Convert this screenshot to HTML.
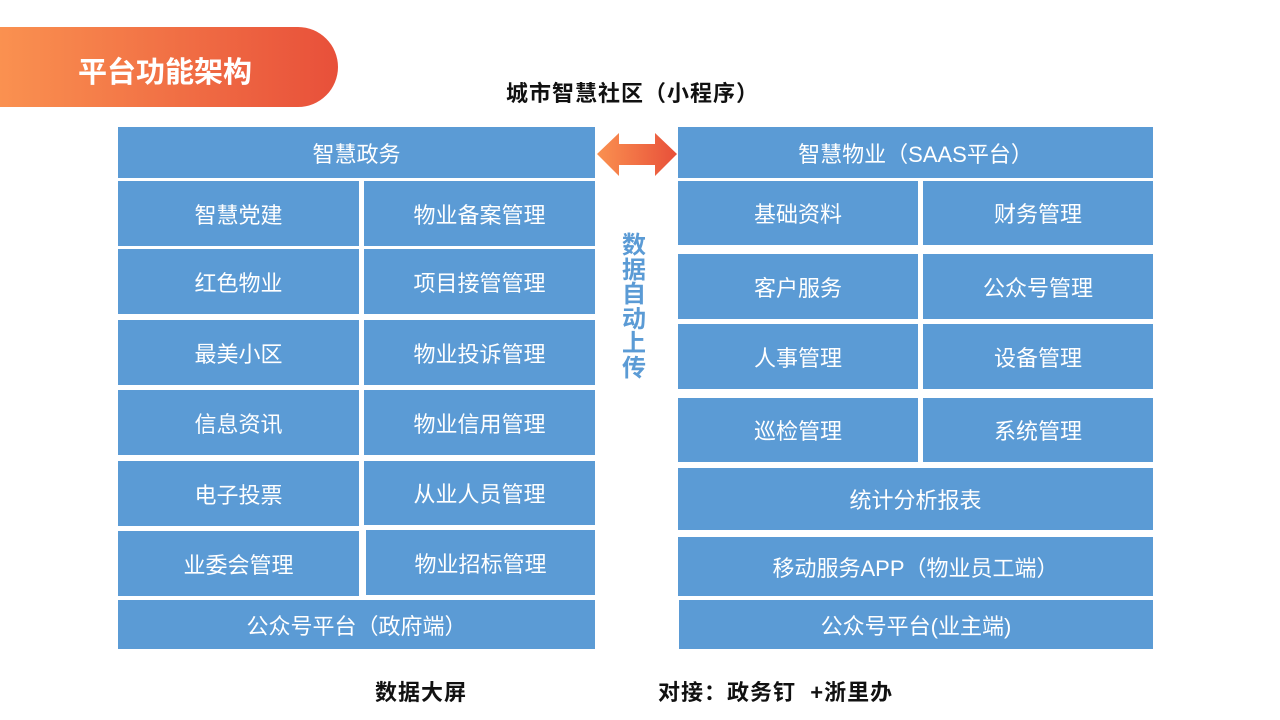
<!DOCTYPE html>
<html><head><meta charset="utf-8"><style>
body{margin:0;width:1280px;height:720px;background:#fff;position:relative;overflow:hidden;font-family:"Liberation Sans","Noto Sans CJK SC",sans-serif}
.b{position:absolute;background:#5B9BD5;color:#fff;font-size:22px;display:flex;align-items:center;justify-content:center;white-space:nowrap}
.t{position:absolute;font-weight:bold;color:#111;white-space:nowrap}
</style></head><body>
<div style="position:absolute;left:0;top:27px;width:338px;height:80px;border-radius:0 40px 40px 0;background:linear-gradient(90deg,#FA9150,#E8503A)"></div>
<div class="t" style="left:78px;top:49px;font-size:29px;color:#fff">平台功能架构</div>
<div class="t" style="left:506px;top:76px;font-size:22px;letter-spacing:1px">城市智慧社区（小程序）</div>

<div class="b" style="left:118px;top:127px;width:477px;height:51px">智慧政务</div>
<div class="b" style="left:118px;top:181px;width:241px;height:65px">智慧党建</div>
<div class="b" style="left:364px;top:181px;width:231px;height:65px">物业备案管理</div>
<div class="b" style="left:118px;top:249px;width:241px;height:65px">红色物业</div>
<div class="b" style="left:364px;top:249px;width:231px;height:65px">项目接管管理</div>
<div class="b" style="left:118px;top:320px;width:241px;height:65px">最美小区</div>
<div class="b" style="left:364px;top:320px;width:231px;height:65px">物业投诉管理</div>
<div class="b" style="left:118px;top:390px;width:241px;height:65px">信息资讯</div>
<div class="b" style="left:364px;top:390px;width:231px;height:65px">物业信用管理</div>
<div class="b" style="left:118px;top:461px;width:241px;height:65px">电子投票</div>
<div class="b" style="left:364px;top:461px;width:231px;height:64px">从业人员管理</div>
<div class="b" style="left:118px;top:531px;width:241px;height:65px">业委会管理</div>
<div class="b" style="left:366px;top:530px;width:229px;height:65px">物业招标管理</div>
<div class="b" style="left:118px;top:600px;width:477px;height:49px">公众号平台（政府端）</div>

<div class="b" style="left:678px;top:127px;width:475px;height:51px">智慧物业（SAAS平台）</div>
<div class="b" style="left:678px;top:181px;width:240px;height:64px">基础资料</div>
<div class="b" style="left:923px;top:181px;width:230px;height:64px">财务管理</div>
<div class="b" style="left:678px;top:254px;width:240px;height:65px">客户服务</div>
<div class="b" style="left:923px;top:254px;width:230px;height:65px">公众号管理</div>
<div class="b" style="left:678px;top:324px;width:240px;height:65px">人事管理</div>
<div class="b" style="left:923px;top:324px;width:230px;height:65px">设备管理</div>
<div class="b" style="left:678px;top:398px;width:240px;height:64px">巡检管理</div>
<div class="b" style="left:923px;top:398px;width:230px;height:64px">系统管理</div>
<div class="b" style="left:678px;top:468px;width:475px;height:62px">统计分析报表</div>
<div class="b" style="left:678px;top:537px;width:475px;height:59px">移动服务APP（物业员工端）</div>
<div class="b" style="left:679px;top:600px;width:474px;height:49px">公众号平台(业主端)</div>

<svg style="position:absolute;left:596px;top:131px" width="82" height="48">
<defs><linearGradient id="g" x1="0" x2="1"><stop offset="0" stop-color="#FA9150"/><stop offset="1" stop-color="#E8503A"/></linearGradient></defs>
<polygon points="1,23 23,2 23,13 59,13 59,2 81,23 59,45 59,34 23,34 23,45" fill="url(#g)"/></svg>
<div class="t" style="left:621px;top:234px;width:26px;font-size:24px;line-height:24.5px;color:#5B9BD5;white-space:normal;text-align:center">数据自动上传</div>

<div class="t" style="left:375px;top:675px;font-size:22px;letter-spacing:1px">数据大屏</div>
<div class="t" style="left:658px;top:675px;font-size:22px;letter-spacing:1px">对接：政务钉 &nbsp;+浙里办</div>
</body></html>
